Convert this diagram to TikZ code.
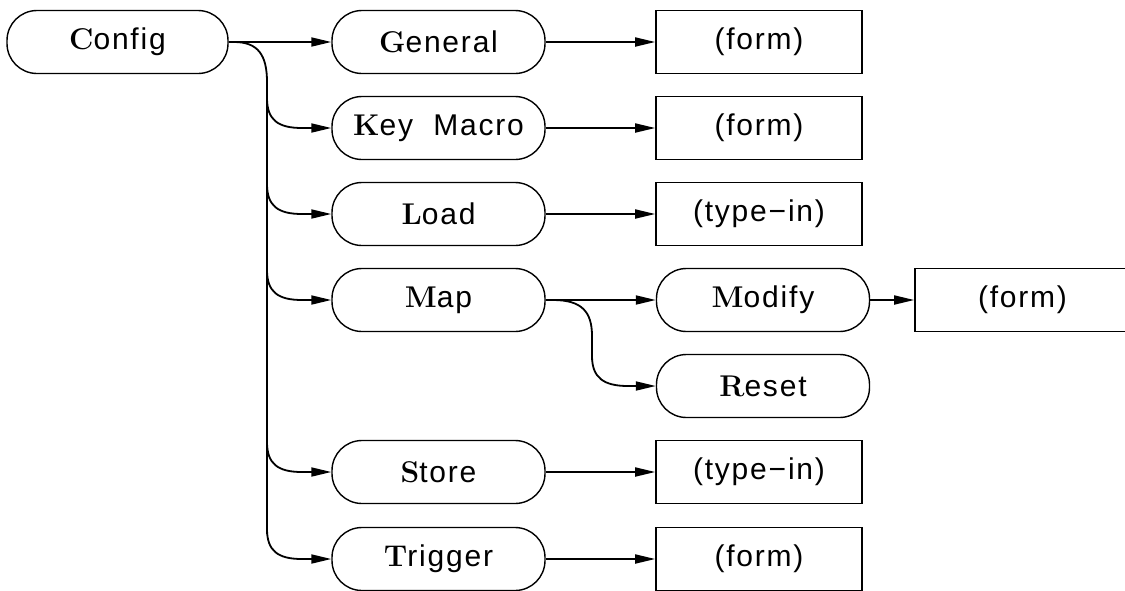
\documentclass[tikz,border=0pt]{standalone}
\usepackage{fontspec}
\newfontfamily\plotsans[LetterSpace=6]{Liberation Sans}
\usetikzlibrary{arrows.meta}
\newcommand{\fl}[1]{{\rmfamily\bfseries #1}}
\tikzset{
  menu/.style={draw, line width=1.4pt, rounded corners=30pt, minimum width=213pt, minimum height=63pt, inner sep=0pt, font=\plotsans\fontsize{30}{32}\selectfont},
  formbox/.style={draw, line width=1.6pt, minimum width=206pt, minimum height=63pt, inner sep=0pt, font=\plotsans\fontsize{30}{32}\selectfont},
  link/.style={line width=1.8pt},
  arr/.style={link, -{Triangle[length=20pt,width=9pt]}}
}
\begin{document}
\begin{tikzpicture}[x=1pt,y=-1pt]
\clip (0,0) rectangle (1125,590);
\fill[white] (0,0) rectangle (1125,590);
% nodes
\node[menu, minimum width=221pt] (config) at (117.5,42) {\fl{C}onfig};
\node[menu] (general) at (438.5,42) {\fl{G}eneral};
\node[menu] (keymacro) at (438.5,128) {\fl{K}ey\ \ Macro};
\node[menu] (load) at (438.5,214) {\fl{L}oad};
\node[menu] (map) at (438.5,300) {\fl{M}ap};
\node[menu] (store) at (438.5,472) {\fl{S}tore};
\node[menu] (trigger) at (438.5,559) {\fl{T}rigger};
\node[formbox] (f1) at (759,42) {(form)};
\node[formbox] (f2) at (759,128) {(form)};
\node[formbox] (f3) at (759,214) {(type−in)};
\node[formbox] (f5) at (759,472) {(type−in)};
\node[formbox] (f6) at (759,559) {(form)};
\node[menu] (modify) at (763,300) {\fl{M}odify};
\node[menu] (reset) at (763,386) {\fl{R}eset};
\node[formbox, minimum width=215pt] (f4) at (1022.5,300) {(form)};
% coordinates
\coordinate (cout) at (234,42);
\coordinate (ttop) at (267,82);
\coordinate (mout) at (553,300);
\coordinate (mtop) at (592,336);
% connectors from Config
\draw[arr] (config.east) -- (general.west);
\draw[link] (config.east) -- (cout) .. controls (258,42) and (267,55) .. (ttop) -- (267,534);
\foreach \n/\y in {keymacro/128, load/214, map/300, store/472, trigger/559}{
  \draw[arr] (267,\y-30) .. controls (267,\y-8) and (278,\y) .. (302,\y) -- (\n.west);
}
% row connectors
\draw[arr] (general.east) -- (f1.west);
\draw[arr] (keymacro.east) -- (f2.west);
\draw[arr] (load.east) -- (f3.west);
\draw[arr] (store.east) -- (f5.west);
\draw[arr] (trigger.east) -- (f6.west);
\draw[arr] (map.east) -- (modify.west);
\draw[arr] (modify.east) -- (f4.west);
\draw[arr] (map.east) -- (mout) .. controls (582,300) and (592,312) .. (mtop) -- (592,356) .. controls (592,378) and (604,386) .. (628,386) -- (reset.west);
\end{tikzpicture}
\end{document}
